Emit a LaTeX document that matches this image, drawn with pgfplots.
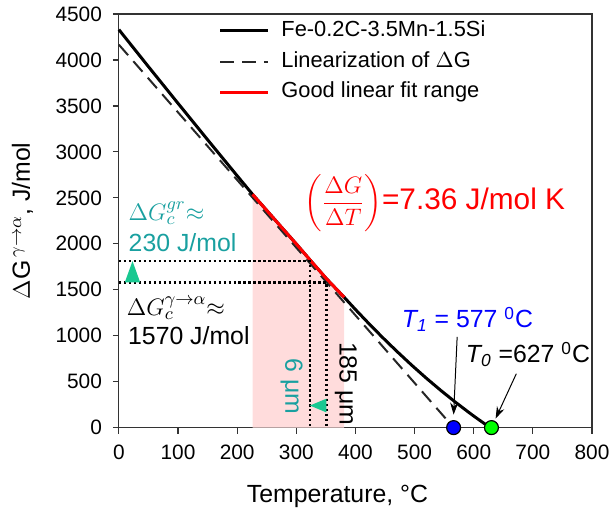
\documentclass[border=0pt]{standalone}
\usepackage{amsmath}
\usepackage{fontspec}
\setmainfont{Liberation Sans}
\usepackage{pgfplots}
\pgfplotsset{compat=1.18}
\usetikzlibrary{arrows.meta}
\definecolor{pinkfill}{RGB}{255,220,220}
\definecolor{tealtxt}{RGB}{25,160,160}
\definecolor{mint}{RGB}{25,200,145}
\definecolor{dotblue}{RGB}{0,0,255}
\definecolor{dotgreen}{RGB}{0,255,0}
\begin{document}
\begin{tikzpicture}
\begin{axis}[
  width=237.35bp, height=207.5bp, scale only axis,
  xmin=0, xmax=800, ymin=0, ymax=4500,
  xtick={0,100,...,800}, ytick={0,500,...,4500},
  tick align=outside, xtick pos=bottom, ytick pos=left,
  major tick length=3bp,
  axis line style={line width=0.6bp, black!80},
  every tick/.style={line width=0.6bp, black!80},
  tick label style={font=\fontsize{10.5}{12}\selectfont},
  /pgf/number format/assume math mode=true,
  /pgf/number format/1000 sep={},
  scaled y ticks=false,
  xticklabel style={yshift=-2bp},
  yticklabel style={xshift=-2bp},
  clip=false,
  xlabel={Temperature, °C},
  ylabel={$\Delta\mathrm{G}^{\,\gamma\rightarrow\alpha}$, J/mol},
  label style={font=\fontsize{12.5}{15}\selectfont},
  xlabel style={at={(axis description cs:0.462,-0.166)}, anchor=center},
  ylabel style={at={(axis description cs:-0.204,0.5)}, anchor=center},
  legend style={at={(axis description cs:0.21,0.998)}, anchor=north west,
    draw=none, fill=none, font=\fontsize{11}{12}\selectfont,
    row sep=0pt, inner sep=0pt,
    nodes={inner sep=0pt, text height=10.5bp, text depth=5bp, anchor=west},
    /tikz/every odd column/.append style={column sep=6bp}},
  legend cell align=left,
  legend image code/.code={\draw[#1] (0bp,0bp) -- (24bp,0bp);},
]
% shaded good-fit region
\addplot[draw=none, fill=pinkfill, forget plot] coordinates {
  (226,2538) (250,2363) (275,2180) (300,1998) (323,1826) (351,1620) (381,1418)} \closedcycle;
% Fe-0.2C-3.5Mn-1.5Si
\addplot[black, line width=1.5bp] coordinates {
  (0,4330) (50,3927) (100,3528) (150,3132) (200,2740) (226,2538) (250,2363)
  (275,2180) (300,1998) (323,1826) (351,1620) (381,1418) (400,1285) (420,1150)
  (445,986) (470,830) (495,680) (520,537) (545,401) (570,272) (590,174)
  (600,126) (610,80) (620,35) (627,0)};
\addlegendentry{Fe-0.2C-3.5Mn-1.5Si}
% linearization
\addplot[black!85, line width=1bp, dash pattern=on 7bp off 4bp] coordinates {(0,4166) (566,0)};
\addlegendentry{Linearization of $\Delta$G}
% good linear fit range
\addplot[red, line width=1.5bp] coordinates {
  (226,2538) (250,2363) (275,2180) (300,1998) (323,1826) (351,1620) (381,1418)};
\addlegendentry{Good linear fit range}
% dotted guides
\addplot[black, line width=1.2bp, dash pattern=on 1.2bp off 1.3bp, forget plot] coordinates {(0,1810) (323,1810) (323,0)};
\addplot[black, line width=1.2bp, dash pattern=on 1.2bp off 1.3bp, forget plot] coordinates {(0,1580) (351,1580) (351,0)};
% triangles
\addplot[draw=none, fill=mint, forget plot] coordinates {(10,1580) (23,1812) (36,1580)};
\addplot[draw=none, fill=mint, forget plot] coordinates {(323,240) (351,315) (351,165)};
% dots
\addplot[only marks, mark=*, mark size=3.5bp, mark options={fill=dotblue, draw=black, line width=0.6bp}, forget plot] coordinates {(566,0)};
\addplot[only marks, mark=*, mark size=3.5bp, mark options={fill=dotgreen, draw=black, line width=0.6bp}, forget plot] coordinates {(630,0)};
% arrows
\draw[-{Stealth[length=6bp,width=4bp]}, line width=0.5bp] (axis cs:572,987) -- (axis cs:566,141);
\draw[-{Stealth[length=6bp,width=4bp]}, line width=0.5bp] (axis cs:672,586) -- (axis cs:637,98);
% texts
\node[anchor=base west, text=tealtxt, font=\fontsize{12.5}{15}\selectfont, inner sep=0pt] at (axis cs:16,2249) {$\Delta G_c^{gr}{\approx}$};
\node[anchor=base west, text=tealtxt, font=\fontsize{12.5}{15}\selectfont, inner sep=0pt] at (axis cs:16,1912) {230 J/mol};
\node[anchor=base west, text=black, font=\fontsize{12.5}{15}\selectfont, inner sep=0pt] at (axis cs:13,1215) {$\Delta G_c^{\gamma\rightarrow\alpha}{\approx}$};
\node[anchor=base west, text=black, font=\fontsize{12.5}{15}\selectfont, inner sep=0pt] at (axis cs:15,900) {1570 J/mol};
\node[rotate=-90, text=tealtxt, font=\fontsize{12.5}{15}\selectfont, inner sep=0pt] at (axis cs:292,445) {6 μm};
\node[rotate=-90, text=black, font=\fontsize{12.5}{15}\selectfont, inner sep=0pt] at (axis cs:384,477) {185 μm};
\node[anchor=west, text=red, inner sep=0pt] at (axis cs:313,2440) {{\fontsize{12}{14}\selectfont$\left(\dfrac{\Delta G}{\Delta T}\right)$}{\fontsize{15}{18}\selectfont=7.36 J/mol K}};
\node[anchor=base west, text=blue, font=\fontsize{12.5}{15}\selectfont, inner sep=0pt] at (axis cs:478,1085) {\textit{T\textsubscript{1}} = 577 \textsuperscript{0}C};
\node[anchor=base west, text=black, font=\fontsize{12.5}{15}\selectfont, inner sep=0pt] at (axis cs:586,705) {\textit{T\textsubscript{0}} =627 \textsuperscript{0}C};
% page extent
\path (rel axis cs:-0.2513,-0.212) rectangle (rel axis cs:1.0463,1.0337);
\end{axis}
\end{tikzpicture}
\end{document}
